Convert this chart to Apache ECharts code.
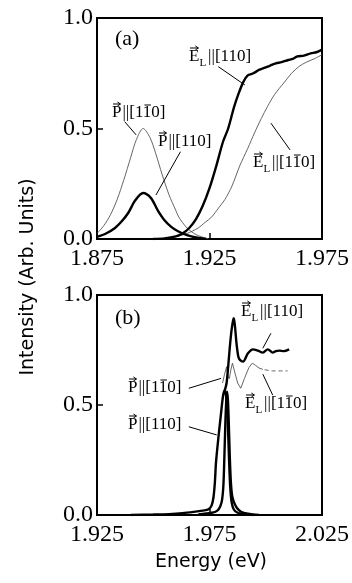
<!DOCTYPE html>
<html>
<head>
<meta charset="utf-8">
<script src="https://cdn.jsdelivr.net/npm/echarts@6/dist/echarts.min.js"></script>
<style>
  html, body { margin: 0; padding: 0; background: #fff; }
  #chart { width: 352px; height: 583px; }
</style>
</head>
<body>
<div id="chart"></div>
<script>
// ---- panel (a) ----
const aTicksX = [1.875, 1.925, 1.975]
const aPPerp = [[1.875,0.025],[1.878,0.06],[1.881,0.11],[1.884,0.18],[1.887,0.27],[1.890,0.37],[1.8925,0.45],[1.8955,0.50],[1.8985,0.46],[1.901,0.39],[1.904,0.29],[1.907,0.20],[1.910,0.13],[1.9113,0.10],[1.915,0.05],[1.919,0.02],[1.9245,0.0]]
const aPPar = [[1.875,0.01],[1.879,0.025],[1.883,0.05],[1.886,0.08],[1.889,0.12],[1.892,0.175],[1.8955,0.208],[1.899,0.185],[1.902,0.13],[1.905,0.085],[1.908,0.055],[1.911,0.035],[1.915,0.018],[1.919,0.007],[1.9235,0.0]]
const aEPar = [[1.900,0.0],[1.905,0.003],[1.910,0.012],[1.913,0.025],[1.916,0.05],[1.919,0.09],[1.922,0.15],[1.925,0.23],[1.928,0.33],[1.931,0.44],[1.9333,0.50],[1.936,0.60],[1.938,0.66],[1.940,0.71],[1.942,0.74],[1.9445,0.75],[1.947,0.765],[1.9494,0.774],[1.952,0.785],[1.9545,0.795],[1.957,0.80],[1.960,0.81],[1.962,0.815],[1.964,0.826],[1.967,0.83],[1.970,0.84],[1.9725,0.845],[1.975,0.857]]
const aEPerp = [[1.905,0.003],[1.910,0.01],[1.915,0.025],[1.920,0.05],[1.923,0.075],[1.926,0.10],[1.929,0.14],[1.9318,0.178],[1.935,0.24],[1.9384,0.33],[1.942,0.41],[1.945,0.48],[1.948,0.545],[1.9508,0.60],[1.954,0.655],[1.958,0.706],[1.9615,0.75],[1.9647,0.78],[1.968,0.80],[1.9715,0.815],[1.975,0.834]]

// ---- panel (b) ----
const bTicksX = [1.925, 1.975, 2.025]
const bPPar = [[1.940,0.0],[1.950,0.002],[1.957,0.004],[1.963,0.008],[1.968,0.014],[1.972,0.020],[1.9746,0.026],[1.976,0.045],[1.9768,0.083],[1.9774,0.15],[1.9779,0.24],[1.979,0.356],[1.980,0.45],[1.981,0.54],[1.9818,0.57],[1.9826,0.52],[1.9832,0.40],[1.9837,0.25],[1.9842,0.13],[1.9848,0.06],[1.9858,0.025],[1.9875,0.01],[1.990,0.003],[1.995,0.0]]
const bPPerp = [[1.970,0.003],[1.976,0.010],[1.9785,0.020],[1.9798,0.040],[1.9806,0.070],[1.9812,0.14],[1.9816,0.26],[1.982,0.40],[1.9824,0.51],[1.9828,0.56],[1.9832,0.52],[1.9836,0.41],[1.984,0.27],[1.9845,0.15],[1.9851,0.085],[1.986,0.055],[1.9872,0.032],[1.989,0.015],[1.992,0.006],[1.997,0.0]]
const bEPar = [[1.9819,0.57],[1.9826,0.60],[1.9833,0.674],[1.984,0.76],[1.9848,0.84],[1.9855,0.885],[1.9858,0.894],[1.9863,0.86],[1.987,0.78],[1.9878,0.72],[1.9885,0.705],[1.9899,0.697],[1.9921,0.735],[1.9943,0.753],[1.9965,0.747],[1.9987,0.738],[2.0009,0.753],[2.0031,0.738],[2.0045,0.745],[2.006,0.747],[2.008,0.745],[2.0104,0.753]]
const bEPerp = [[1.9808,0.60],[1.9817,0.64],[1.9826,0.674],[1.9832,0.63],[1.9838,0.62],[1.9845,0.66],[1.9852,0.69],[1.9862,0.65],[1.9875,0.60],[1.9889,0.576],[1.9905,0.62],[1.9925,0.67],[1.994,0.69],[1.9955,0.68],[1.997,0.668],[1.9987,0.662]]
const bEPerpTail = [[1.9995,0.66],[2.003,0.655],[2.0065,0.655],[2.0097,0.655]]

const yTicks = [0, 0.5, 1.0]

// leader lines (data coords)
const aLeaders = [
  [[1.9289,0.780],[1.9407,0.697]],
  [[1.8873,0.531],[1.8924,0.471]],
  [[1.9121,0.395],[1.9012,0.199]],
  [[1.9523,0.524],[1.9608,0.403]]
]
const bLeaders = [
  [[2.0023,0.826],[1.9987,0.758]],
  [[1.9658,0.576],[1.9801,0.621]],
  [[1.9987,0.640],[2.0031,0.545]],
  [[1.9658,0.401],[1.9782,0.364]]
]

const SERIF = 'Liberation Serif'
const SANS = 'DejaVu Sans'
const THICK = { color: '#000', width: 2.4 }
const THIN = { color: '#555', width: 0.9 }

const chartInstance = echarts.init(document.getElementById('chart'))

const ctx = document.createElement('canvas').getContext('2d')
const textW = (s, font) => { ctx.font = font; return ctx.measureText(s).width }

// label like  P->||[110]  or  E->_L||[1-10]
const vecLabel = (x, y, letter, sub, barred) => {
  const big = '17px ' + SERIF
  const small = '11px ' + SERIF
  const els = []
  const wL = textW(letter, big)
  els.push({ type: 'text', x: x, y: y, style: { text: letter, font: big, fill: '#000', verticalAlign: 'middle' } })
  // vector arrow
  els.push({ type: 'polyline', shape: { points: [[x + 1, y - 9], [x + wL - 1, y - 9]] }, style: { stroke: '#000', lineWidth: 1 } })
  els.push({ type: 'polyline', shape: { points: [[x + wL - 4, y - 11], [x + wL - 1, y - 9], [x + wL - 4, y - 7]] }, style: { stroke: '#000', lineWidth: 1, fill: null } })
  let cx = x + wL
  if (sub) {
    els.push({ type: 'text', x: cx, y: y + 6, style: { text: sub, font: small, fill: '#000', verticalAlign: 'middle' } })
    cx += textW(sub, small) + 1
  }
  const rest = '||[110]'
  els.push({ type: 'text', x: cx + 1, y: y, style: { text: rest, font: big, fill: '#000', verticalAlign: 'middle' } })
  if (barred) {
    const bx = cx + 1 + textW('||[1', big)
    const bw = textW('1', big)
    els.push({ type: 'polyline', shape: { points: [[bx + 1, y - 8], [bx + bw - 1, y - 8]] }, style: { stroke: '#000', lineWidth: 1 } })
  }
  return els
}

const curve = (data, style, grid) => ({
  type: 'line',
  xAxisIndex: grid,
  yAxisIndex: grid,
  data: data,
  showSymbol: false,
  smooth: 0.3,
  silent: true,
  lineStyle: style
})

const leaderSeries = (lines, grid) => lines.map(l => ({
  type: 'line',
  xAxisIndex: grid,
  yAxisIndex: grid,
  data: l,
  showSymbol: false,
  silent: true,
  lineStyle: { color: '#000', width: 1 }
}))

// tick labels go through rich text so the serif face sticks
const tickRich = { s: { fontFamily: SERIF, fontSize: 24, color: '#000' } }

const xAxisFor = (ticks, grid) => ({
  type: 'value',
  gridIndex: grid,
  min: ticks[0],
  max: ticks[2],
  interval: ticks[1] - ticks[0],
  axisLine: { show: true, lineStyle: { color: '#000', width: 2 } },
  axisTick: { show: true, inside: true, length: 6, lineStyle: { color: '#000', width: 1.5 } },
  splitLine: { show: false },
  axisLabel: {
    margin: 8,
    formatter: v => '{s|' + v.toFixed(3) + '}',
    rich: tickRich,
    showMinLabel: true,
    showMaxLabel: true
  }
})

const yAxisFor = grid => ({
  type: 'value',
  gridIndex: grid,
  min: yTicks[0],
  max: yTicks[2],
  interval: yTicks[1],
  axisLine: { show: true, lineStyle: { color: '#000', width: 2 } },
  axisTick: { show: true, inside: true, length: 6, lineStyle: { color: '#000', width: 1.5 } },
  splitLine: { show: false },
  axisLabel: {
    margin: 4,
    formatter: v => '{s|' + v.toFixed(1) + '}',
    rich: tickRich
  }
})

const option = {
  backgroundColor: '#fff',
  animation: false,
  grid: [
    { left: 97, top: 18, width: 228, height: 221, show: true, borderColor: '#000', borderWidth: 2, backgroundColor: 'transparent' },
    { left: 97, top: 295, width: 228, height: 220, show: true, borderColor: '#000', borderWidth: 2, backgroundColor: 'transparent' }
  ],
  xAxis: [xAxisFor(aTicksX, 0), xAxisFor(bTicksX, 1)],
  yAxis: [yAxisFor(0), yAxisFor(1)],
  series: [
    curve(aPPerp, THIN, 0),
    curve(aEPerp, THIN, 0),
    curve(aPPar, THICK, 0),
    curve(aEPar, THICK, 0),
    curve(bPPar, THICK, 1),
    curve(bPPerp, THICK, 1),
    Object.assign(curve(bEPerp, THIN, 1), { smooth: false }),
    Object.assign(curve(bEPerpTail, Object.assign({ type: [4, 3] }, THIN), 1), { smooth: false }),
    curve(bEPar, THICK, 1),
    ...leaderSeries(aLeaders, 0),
    ...leaderSeries(bLeaders, 1)
  ],
  graphic: [
    { type: 'text', x: 115, y: 39, style: { text: '(a)', font: '22px ' + SERIF, fill: '#000', verticalAlign: 'middle' } },
    { type: 'text', x: 115, y: 318, style: { text: '(b)', font: '22px ' + SERIF, fill: '#000', verticalAlign: 'middle' } },
    ...vecLabel(189, 57, 'E', 'L', false),
    ...vecLabel(112, 113, 'P', '', true),
    ...vecLabel(158, 142, 'P', '', false),
    ...vecLabel(253, 163, 'E', 'L', true),
    ...vecLabel(241, 312, 'E', 'L', false),
    ...vecLabel(128, 388, 'P', '', true),
    ...vecLabel(245, 404, 'E', 'L', true),
    ...vecLabel(128, 425, 'P', '', false),
    { type: 'text', x: 28, y: 277, rotation: Math.PI / 2, style: { text: 'Intensity (Arb. Units)', font: '19px ' + SANS, fill: '#000', align: 'center', verticalAlign: 'middle' } },
    { type: 'text', x: 211, y: 562, style: { text: 'Energy (eV)', font: '19px ' + SANS, fill: '#000', align: 'center', verticalAlign: 'middle' } }
  ]
}
chartInstance.setOption(option)
</script>
</body>
</html>
